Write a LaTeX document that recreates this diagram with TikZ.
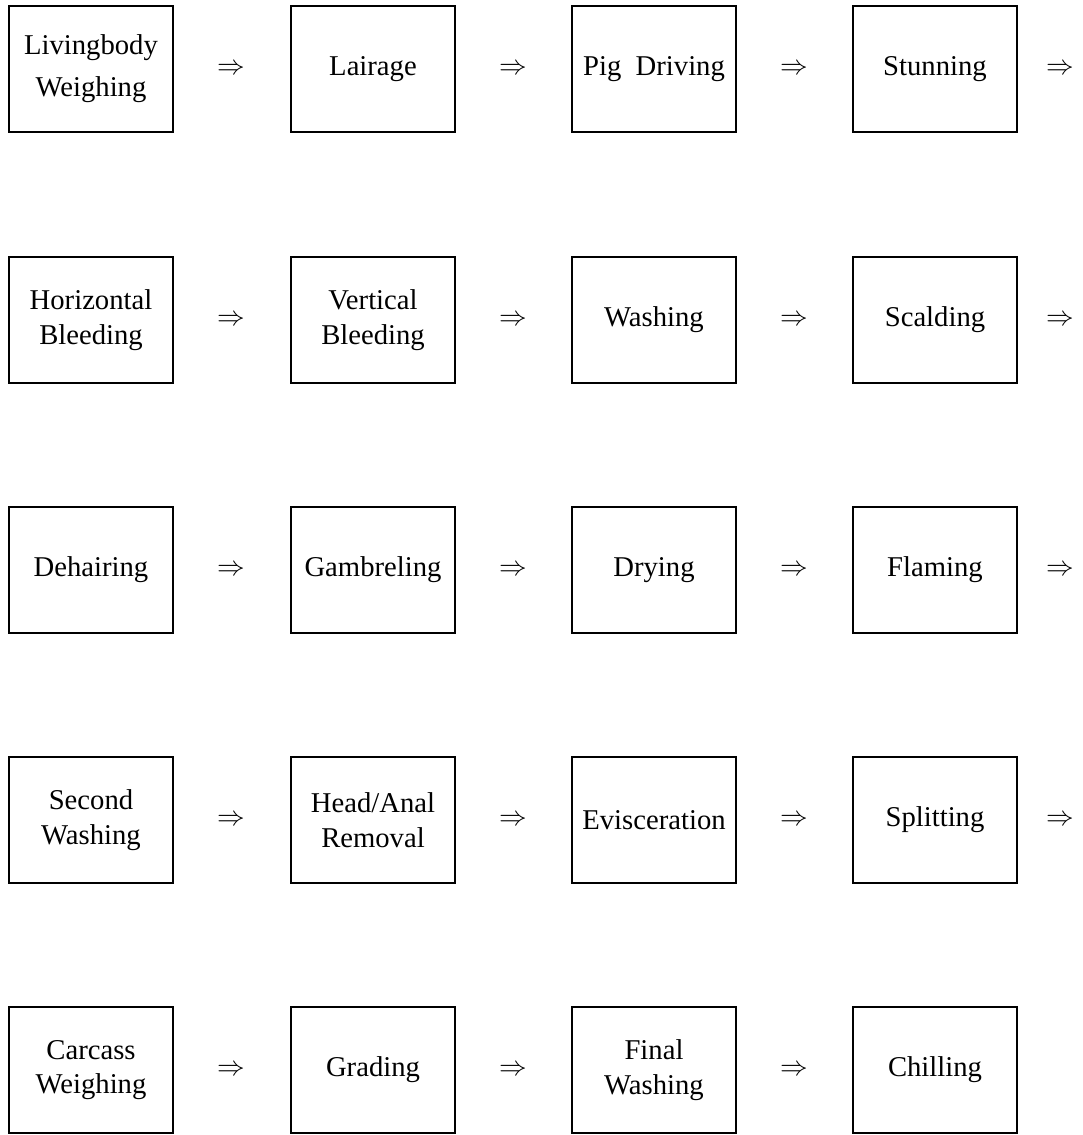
\documentclass[tikz,border=0pt]{standalone}
\usepackage{fontspec}
\setmainfont{Liberation Serif}
\begin{document}
\begin{tikzpicture}[x=0.75pt,y=-0.75pt,
  stepbox/.style={draw,line width=1.6pt,minimum width=164*0.75pt,minimum height=126*0.75pt,
    inner sep=0pt,align=center,font=\fontsize{21.5}{26}\selectfont},
  widebox/.style={stepbox,font=\fontsize{21.5}{31.5}\selectfont},
  arr/.style={inner sep=0pt,font=\fontsize{22}{24}\selectfont}]
\useasboundingbox (0,0) rectangle (1082,1135);
\def\ya{69}\def\yb{320}\def\yc{570}\def\yd{820}\def\ye{1070}
% row 1
\node[widebox] (a1) at (91,\ya) {Livingbody\\Weighing};
\node[stepbox] (a2) at (373,\ya) {Lairage};
\node[stepbox] (a3) at (654,\ya) {Pig\ \ Driving};
\node[stepbox] (a4) at (935,\ya) {Stunning};
\node[arr] (ra1) at (231,\ya) {$\Rightarrow$};
\node[arr] (ra2) at (513,\ya) {$\Rightarrow$};
\node[arr] (ra3) at (794,\ya) {$\Rightarrow$};
\node[arr] (ra4) at (1060,\ya) {$\Rightarrow$};
% row 2
\node[stepbox] (b1) at (91,\yb) {Horizontal\\Bleeding};
\node[stepbox] (b2) at (373,\yb) {Vertical\\Bleeding};
\node[stepbox] (b3) at (654,\yb) {Washing};
\node[stepbox] (b4) at (935,\yb) {Scalding};
\node[arr] (rb1) at (231,\yb) {$\Rightarrow$};
\node[arr] (rb2) at (513,\yb) {$\Rightarrow$};
\node[arr] (rb3) at (794,\yb) {$\Rightarrow$};
\node[arr] (rb4) at (1060,\yb) {$\Rightarrow$};
% row 3
\node[stepbox] (c1) at (91,\yc) {Dehairing};
\node[stepbox] (c2) at (373,\yc) {Gambreling};
\node[stepbox] (c3) at (654,\yc) {Drying};
\node[stepbox] (c4) at (935,\yc) {Flaming};
\node[arr] (rc1) at (231,\yc) {$\Rightarrow$};
\node[arr] (rc2) at (513,\yc) {$\Rightarrow$};
\node[arr] (rc3) at (794,\yc) {$\Rightarrow$};
\node[arr] (rc4) at (1060,\yc) {$\Rightarrow$};
% row 4
\node[stepbox] (d1) at (91,\yd) {Second\\Washing};
\node[stepbox] (d2) at (373,\yd) {Head/Anal\\Removal};
\node[stepbox] (d3) at (654,\yd) {Evisceration};
\node[stepbox] (d4) at (935,\yd) {Splitting};
\node[arr] (rd1) at (231,\yd) {$\Rightarrow$};
\node[arr] (rd2) at (513,\yd) {$\Rightarrow$};
\node[arr] (rd3) at (794,\yd) {$\Rightarrow$};
\node[arr] (rd4) at (1060,\yd) {$\Rightarrow$};
% row 5
\node[stepbox] (e1) at (91,\ye) {Carcass\\Weighing};
\node[stepbox] (e2) at (373,\ye) {Grading};
\node[stepbox] (e3) at (654,\ye) {Final\\Washing};
\node[stepbox] (e4) at (935,\ye) {Chilling};
\node[arr] (re1) at (231,\ye) {$\Rightarrow$};
\node[arr] (re2) at (513,\ye) {$\Rightarrow$};
\node[arr] (re3) at (794,\ye) {$\Rightarrow$};
\end{tikzpicture}
\end{document}
